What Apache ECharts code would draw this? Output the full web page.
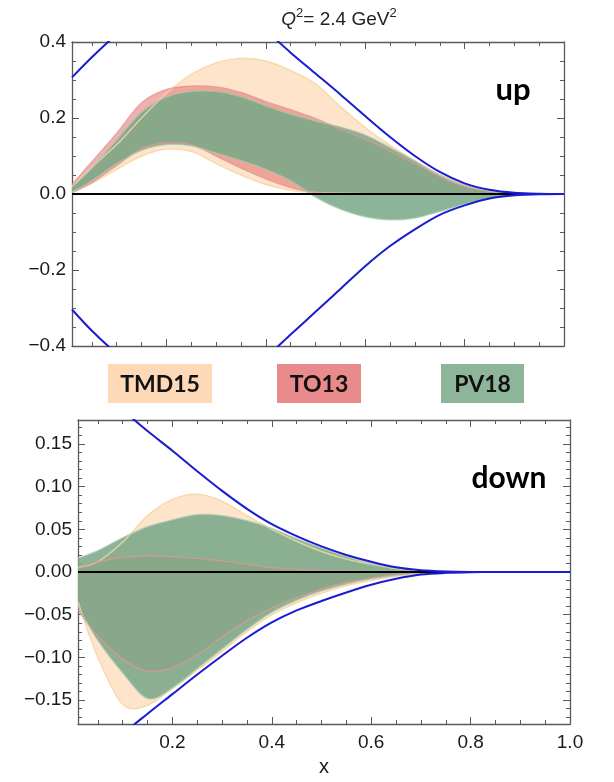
<!DOCTYPE html>
<html>
<head>
<meta charset="utf-8">
<script src="https://cdn.jsdelivr.net/npm/echarts/dist/echarts.min.js"></script>
<style>
  html, body { margin: 0; padding: 0; background: #ffffff; }
  #chart { width: 614px; height: 782px; }
</style>
</head>
<body>
<div id="chart"></div>
<script>
// Momentum fraction grid shared by every curve
const xs = [0.01, 0.05, 0.1, 0.15, 0.2, 0.25, 0.3, 0.35, 0.4, 0.45, 0.5, 0.55, 0.6, 0.65, 0.7, 0.75, 0.8, 0.85, 0.9, 0.95, 1.0];

const bandNames = ['TMD15', 'TO13', 'PV18'];

// up quark: x h1(x) uncertainty bands
const upTMD15Hi = [0.02, 0.07, 0.13, 0.2, 0.265, 0.315, 0.345, 0.357, 0.35, 0.325, 0.29, 0.23, 0.175, 0.128, 0.088, 0.05, 0.022, 0.008, 0.002, 0.0003, 0];
const upTMD15Lo = [0.005, 0.028, 0.065, 0.1, 0.118, 0.112, 0.08, 0.05, 0.025, 0.01, 0.004, 0.002, 0.001, 0.0005, 0.0003, 0.0002, 0.0001, 0, 0, 0, 0];
const upTO13Hi = [0.025, 0.085, 0.16, 0.24, 0.275, 0.284, 0.282, 0.267, 0.243, 0.222, 0.199, 0.17, 0.145, 0.113, 0.08, 0.046, 0.02, 0.007, 0.002, 0.0003, 0];
const upTO13Lo = [0.003, 0.03, 0.075, 0.12, 0.135, 0.13, 0.1, 0.068, 0.04, 0.017, 0.004, 0.001, 0.0005, 0.0002, 0.0001, 0, 0, 0, 0, 0, 0];
const upPV18Hi = [0.018, 0.068, 0.142, 0.215, 0.255, 0.27, 0.27, 0.256, 0.232, 0.21, 0.192, 0.176, 0.155, 0.122, 0.087, 0.05, 0.024, 0.009, 0.002, 0.0003, 0];
const upPV18Lo = [0.003, 0.035, 0.08, 0.115, 0.13, 0.127, 0.108, 0.088, 0.065, 0.035, -0.008, -0.04, -0.06, -0.068, -0.063, -0.046, -0.027, -0.012, -0.004, -0.001, 0];
// up quark: positivity bounds
const upBoundHi = [0.307, 0.36, 0.42, 0.47, 0.51, 0.525, 0.515, 0.485, 0.43, 0.372, 0.317, 0.262, 0.205, 0.15, 0.10, 0.058, 0.028, 0.011, 0.003, 0.0005, 0];
const upBoundLo = [-0.304, -0.36, -0.42, -0.47, -0.51, -0.525, -0.515, -0.485, -0.43, -0.37, -0.31, -0.25, -0.19, -0.137, -0.093, -0.055, -0.03, -0.012, -0.0035, -0.0006, 0];

// down quark: x h1(x) uncertainty bands
const dnTMD15Hi = [0.005, 0.012, 0.035, 0.066, 0.085, 0.091, 0.083, 0.066, 0.05, 0.036, 0.024, 0.015, 0.009, 0.004, 0.0015, 0.0004, 0.0001, 0, 0, 0, 0];
const dnTMD15Lo = [-0.035, -0.1, -0.155, -0.156, -0.136, -0.115, -0.093, -0.07, -0.05, -0.036, -0.025, -0.016, -0.01, -0.005, -0.002, -0.0007, -0.0002, 0, 0, 0, 0];
const dnTO13Hi = [0.004, 0.012, 0.017, 0.019, 0.018, 0.016, 0.013, 0.009, 0.005, 0.003, 0.0015, 0.0008, 0.0003, 0.0001, 0, 0, 0, 0, 0, 0, 0];
const dnTO13Lo = [-0.045, -0.075, -0.102, -0.116, -0.112, -0.097, -0.076, -0.057, -0.042, -0.03, -0.02, -0.012, -0.007, -0.003, -0.001, -0.0003, 0, 0, 0, 0, 0];
const dnPV18Hi = [0.016, 0.025, 0.04, 0.053, 0.061, 0.067, 0.066, 0.06, 0.051, 0.039, 0.028, 0.018, 0.010, 0.0045, 0.0016, 0.0005, 0.0001, 0, 0, 0, 0];
const dnPV18Lo = [-0.04, -0.08, -0.118, -0.148, -0.136, -0.113, -0.09, -0.067, -0.047, -0.033, -0.022, -0.014, -0.008, -0.004, -0.0015, -0.0005, -0.0001, 0, 0, 0, 0];
// down quark: positivity bounds
const dnBoundHi = [0.245, 0.22, 0.19, 0.165, 0.142, 0.118, 0.095, 0.074, 0.056, 0.042, 0.030, 0.020, 0.012, 0.0055, 0.002, 0.0006, 0.0001, 0, 0, 0, 0];
const dnBoundLo = [-0.245, -0.22, -0.19, -0.166, -0.143, -0.12, -0.098, -0.077, -0.059, -0.045, -0.034, -0.024, -0.015, -0.008, -0.003, -0.001, -0.0002, 0, 0, 0, 0];

// Tick positions
const xMajorTicks = [0.2, 0.4, 0.6, 0.8, 1.0];
const xMinorTicks = [0.05, 0.1, 0.15, 0.25, 0.3, 0.35, 0.45, 0.5, 0.55, 0.65, 0.7, 0.75, 0.85, 0.9, 0.95];
const yUpMajorTicks = [-0.4, -0.2, 0, 0.2, 0.4];
const yUpMinorTicks = [-0.35, -0.3, -0.25, -0.15, -0.1, -0.05, 0.05, 0.1, 0.15, 0.25, 0.3, 0.35];
const yDnMajorTicks = [-0.15, -0.1, -0.05, 0, 0.05, 0.1, 0.15];
const yDnMinorTicks = [-0.17, -0.16, -0.14, -0.13, -0.12, -0.11, -0.09, -0.08, -0.07, -0.06, -0.04, -0.03, -0.02, -0.01,
                       0.01, 0.02, 0.03, 0.04, 0.06, 0.07, 0.08, 0.09, 0.11, 0.12, 0.13, 0.14, 0.16, 0.17];

const X_MIN = 0.01, X_MAX = 1.0;
const Y_UP = [-0.4, 0.4];
const Y_DN = [-0.178, 0.178];

const fillColors = ['rgba(252,205,160,0.55)', 'rgba(228,112,112,0.55)', 'rgba(120,168,135,0.86)'];
const edgeColors = ['rgba(246,214,160,0.85)', 'rgba(226,150,148,0.75)', 'rgba(165,200,172,0.7)'];
const legendColors = ['#fdd9b7', '#e98a8c', '#8db59a'];
const frameColor = '#5a5a5a';
const boundColor = '#1b1bd2';
const labelFont = 'Liberation Sans';

function fmtSigned(d) {
  return function (v) {
    const s = Math.abs(v).toFixed(d);
    return v < -1e-9 ? '\u2212' + s : s;
  };
}

function frameAxes(gi, isX, min, max, major, minor, showLabels, fmt, extra) {
  const pos = isX ? ['bottom', 'top'] : ['left', 'right'];
  const common = { type: 'value', gridIndex: gi, min: min, max: max, splitLine: { show: false }, silent: true };
  const line = { show: true, onZero: false, lineStyle: { color: frameColor, width: 1.3 } };
  const noLine = { show: false, onZero: false };
  const label = {
    show: showLabels, customValues: major, formatter: fmt, margin: isX ? 9 : 6,
    fontFamily: labelFont, fontSize: 19, color: '#1a1a1a'
  };
  return [
    Object.assign({}, common, { position: pos[0], axisLine: line,
      axisTick: { show: true, inside: true, length: 7, customValues: major, lineStyle: { color: frameColor, width: 1 } },
      axisLabel: label }, extra || {}),
    Object.assign({}, common, { position: pos[1], axisLine: line,
      axisTick: { show: true, inside: true, length: 7, customValues: major, lineStyle: { color: frameColor, width: 1 } },
      axisLabel: { show: false } }),
    Object.assign({}, common, { position: pos[0], axisLine: noLine,
      axisTick: { show: true, inside: true, length: 4, customValues: minor, lineStyle: { color: frameColor, width: 1 } },
      axisLabel: { show: false } }),
    Object.assign({}, common, { position: pos[1], axisLine: noLine,
      axisTick: { show: true, inside: true, length: 4, customValues: minor, lineStyle: { color: frameColor, width: 1 } },
      axisLabel: { show: false } })
  ];
}

function pairs(ys) { return xs.map(function (x, i) { return [x, ys[i]]; }); }

// Catmull-Rom spline through pixel points, emitted as cubic Bezier path commands
function splinePath(pts, start) {
  let d = start + pts[0][0].toFixed(2) + ' ' + pts[0][1].toFixed(2);
  const n = pts.length;
  for (let i = 0; i < n - 1; i++) {
    const p0 = pts[Math.max(i - 1, 0)], p1 = pts[i], p2 = pts[i + 1], p3 = pts[Math.min(i + 2, n - 1)];
    const c1x = p1[0] + (p2[0] - p0[0]) / 6, c1y = p1[1] + (p2[1] - p0[1]) / 6;
    const c2x = p2[0] - (p3[0] - p1[0]) / 6, c2y = p2[1] - (p3[1] - p1[1]) / 6;
    d += ' C' + c1x.toFixed(2) + ' ' + c1y.toFixed(2) + ' ' + c2x.toFixed(2) + ' ' + c2y.toFixed(2) +
         ' ' + p2[0].toFixed(2) + ' ' + p2[1].toFixed(2);
  }
  return d;
}

function bandFill(gi, k, lo, hi) {
  return {
    type: 'custom', name: bandNames[k], coordinateSystem: 'cartesian2d',
    xAxisIndex: gi * 4, yAxisIndex: gi * 4, silent: true, animation: false, z: 2, clip: true,
    data: [[X_MIN, 0]],
    renderItem: function (params, api) {
      const top = xs.map(function (x, i) { return api.coord([x, hi[i]]); });
      const bot = xs.map(function (x, i) { return api.coord([x, lo[i]]); }).reverse();
      const d = splinePath(top, 'M') + ' ' + splinePath(bot, 'L') + ' Z';
      return { type: 'path', shape: { pathData: d }, style: { fill: fillColors[k], stroke: null } };
    }
  };
}

function bandEdges(gi, k, lo, hi) {
  return {
    type: 'custom', coordinateSystem: 'cartesian2d',
    xAxisIndex: gi * 4, yAxisIndex: gi * 4, silent: true, animation: false, z: 3, clip: true,
    data: [[X_MIN, 0]],
    renderItem: function (params, api) {
      const top = xs.map(function (x, i) { return api.coord([x, hi[i]]); });
      const bot = xs.map(function (x, i) { return api.coord([x, lo[i]]); });
      const d = splinePath(top, 'M') + ' ' + splinePath(bot, 'M');
      return { type: 'path', shape: { pathData: d },
        style: { fill: null, stroke: edgeColors[k], lineWidth: 1.4 } };
    }
  };
}

function plainLine(gi, data, color, width, z) {
  return {
    type: 'line', xAxisIndex: gi * 4, yAxisIndex: gi * 4, smooth: 0.3, symbol: 'none',
    silent: true, animation: false, z: z, clip: true, data: data, lineStyle: { color: color, width: width }
  };
}

const panels = [
  { lo: [upTMD15Lo, upTO13Lo, upPV18Lo], hi: [upTMD15Hi, upTO13Hi, upPV18Hi], bHi: upBoundHi, bLo: upBoundLo },
  { lo: [dnTMD15Lo, dnTO13Lo, dnPV18Lo], hi: [dnTMD15Hi, dnTO13Hi, dnPV18Hi], bHi: dnBoundHi, bLo: dnBoundLo }
];

const series = [];
panels.forEach(function (p, gi) {
  for (let k = 0; k < 3; k++) series.push(bandFill(gi, k, p.lo[k], p.hi[k]));
  for (let k = 0; k < 3; k++) series.push(bandEdges(gi, k, p.lo[k], p.hi[k]));
  series.push(plainLine(gi, [[X_MIN, 0], [X_MAX, 0]], '#000000', 2.2, 4));
  series.push(plainLine(gi, pairs(p.bHi), boundColor, 2, 5));
  series.push(plainLine(gi, pairs(p.bLo), boundColor, 2, 5));
});

const xAxes = []
  .concat(frameAxes(0, true, X_MIN, X_MAX, xMajorTicks, xMinorTicks, false, null))
  .concat(frameAxes(1, true, X_MIN, X_MAX, xMajorTicks, xMinorTicks, true, fmtSigned(1),
    { name: 'x', nameLocation: 'middle', nameGap: 33,
      nameTextStyle: { fontFamily: labelFont, fontSize: 20, color: '#1a1a1a' } }));
const yAxes = []
  .concat(frameAxes(0, false, Y_UP[0], Y_UP[1], yUpMajorTicks, yUpMinorTicks, true, fmtSigned(1)))
  .concat(frameAxes(1, false, Y_DN[0], Y_DN[1], yDnMajorTicks, yDnMinorTicks, true, fmtSigned(2)));

// Legend chips between the panels
const chipBoxes = [[108, 364, 104, 39], [277, 364, 84, 39], [441, 364, 83, 39]];
const graphics = [];
bandNames.forEach(function (n, k) {
  const b = chipBoxes[k];
  graphics.push({ type: 'rect', z: 100, shape: { x: b[0], y: b[1], width: b[2], height: b[3] },
    style: { fill: legendColors[k] }, silent: true });
  graphics.push({ type: 'text', z: 101, x: b[0] + b[2] / 2, y: b[1] + b[3] / 2 + 1,
    style: { text: n, align: 'center', verticalAlign: 'middle', fill: '#111111',
      font: 'bold 23px Lato' }, silent: true });
});
graphics.push({ type: 'text', z: 101, x: 513, y: 90, style: { text: 'up', align: 'center', verticalAlign: 'middle',
  fill: '#000000', font: 'bold 31px Lato' }, silent: true });
graphics.push({ type: 'text', z: 101, x: 509, y: 478, style: { text: 'down', align: 'center', verticalAlign: 'middle',
  fill: '#000000', font: 'bold 30px Lato' }, silent: true });
graphics.push({ type: 'text', z: 101, x: 339, y: 18, style: {
  text: '{q|Q}{s|2}{n|= 2.4 GeV}{s|2}', align: 'center', verticalAlign: 'middle',
  rich: {
    q: { fontFamily: labelFont, fontStyle: 'italic', fontSize: 19, fill: '#222', lineHeight: 23, verticalAlign: 'bottom' },
    n: { fontFamily: labelFont, fontSize: 19, fill: '#222', lineHeight: 23, verticalAlign: 'bottom' },
    s: { fontFamily: labelFont, fontSize: 13, fill: '#222', lineHeight: 23, verticalAlign: 'top' }
  } }, silent: true });

const chart = echarts.init(document.getElementById('chart'), null, { renderer: 'canvas' });
chart.setOption({
  animation: false,
  backgroundColor: '#ffffff',
  grid: [
    { left: 72, top: 42, width: 492, height: 304, containLabel: false },
    { left: 78, top: 420, width: 492, height: 304, containLabel: false }
  ],
  xAxis: xAxes,
  yAxis: yAxes,
  series: series,
  graphic: graphics
});
</script>
</body>
</html>
